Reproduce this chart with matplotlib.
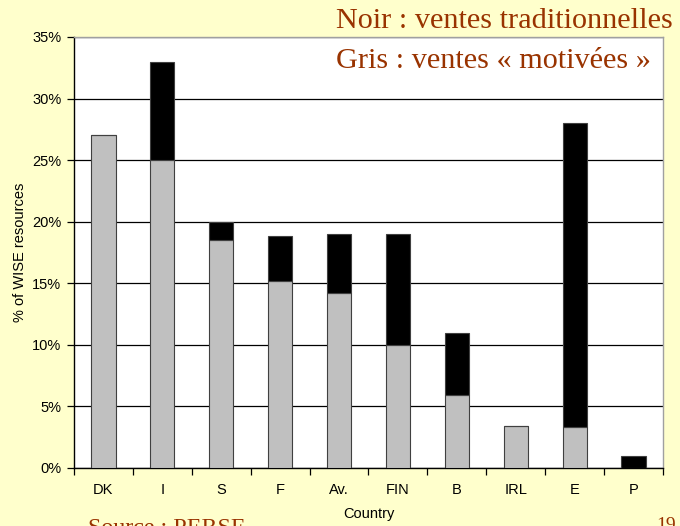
import matplotlib.pyplot as plt
import matplotlib.ticker as mticker

# data (% of WISE resources)
countries = ['DK', 'I', 'S', 'F', 'Av.', 'FIN', 'B', 'IRL', 'E', 'P']
motivated = [27.0, 25.0, 18.5, 15.2, 14.2, 10.0, 5.9, 3.4, 3.35, 0.0]      # grey
traditional = [0.0, 8.0, 1.5, 3.6, 4.8, 9.0, 5.1, 0.0, 24.65, 1.0]         # black

bg = '#FFFFCC'
brown = '#993300'
plt.rcParams['font.family'] = ['Liberation Sans', 'DejaVu Sans']

fig = plt.figure(figsize=(6.8, 5.26), dpi=100, facecolor=bg)
ax = fig.add_axes([0.1088, 0.1103, 0.975 - 0.1088, 0.9297 - 0.1103])
ax.set_facecolor('white')

x = range(len(countries))
ax.bar(x, motivated, width=0.41, color='#C0C0C0', edgecolor='#404040',
       linewidth=0.8, zorder=3)
ax.bar(x, traditional, width=0.41, bottom=motivated, color='black',
       edgecolor='#404040', linewidth=0.8, zorder=3)

ax.set_xlim(-0.5, len(countries) - 0.5)
ax.set_ylim(0, 35)
ax.yaxis.set_major_locator(mticker.MultipleLocator(5))
ax.yaxis.set_major_formatter(mticker.FuncFormatter(lambda v, p: f'{v:.0f}%'))
ax.grid(axis='y', color='black', linewidth=0.9, zorder=1)

# ticks at category boundaries, labels in the middle
ax.set_xticks([i - 0.5 for i in range(len(countries) + 1)])
ax.set_xticklabels([])
ax.set_xticks(list(x), minor=True)
ax.set_xticklabels(countries, minor=True)
ax.tick_params(axis='x', which='major', direction='out', length=5, width=0.9)
ax.tick_params(axis='x', which='minor', length=0, pad=11, labelsize=10.5)
ax.tick_params(axis='y', direction='out', length=5, width=0.9, labelsize=10.5, pad=4)

for side in ['left', 'bottom']:
    ax.spines[side].set_color('black')
    ax.spines[side].set_linewidth(1.0)
for side in ['top', 'right']:
    ax.spines[side].set_color('#A0A0A0')
    ax.spines[side].set_linewidth(1.0)

ax.set_xlabel('Country', fontsize=10.5, labelpad=7)
ax.set_ylabel('% of WISE resources', fontsize=10.5, labelpad=4)

# slide annotations
fig.text(336 / 680, 1 - 28 / 526, 'Noir : ventes traditionnelles',
         family='Liberation Serif', fontsize=21.8, color=brown, ha='left', va='baseline')
fig.text(336 / 680, 1 - 68 / 526, 'Gris : ventes « motivées »',
         family='Liberation Serif', fontsize=21.8, color=brown, ha='left', va='baseline')
fig.text(88 / 680, 1 - 534 / 526, 'Source : PERSE',
         family='Liberation Serif', fontsize=17.3, color=brown, ha='left', va='baseline')
fig.text(676 / 680, 1 - 530 / 526, '19',
         family='Liberation Serif', fontsize=14, color=brown, ha='right', va='baseline')

plt.savefig('out.png', dpi=100, facecolor=bg)
plt.close()
